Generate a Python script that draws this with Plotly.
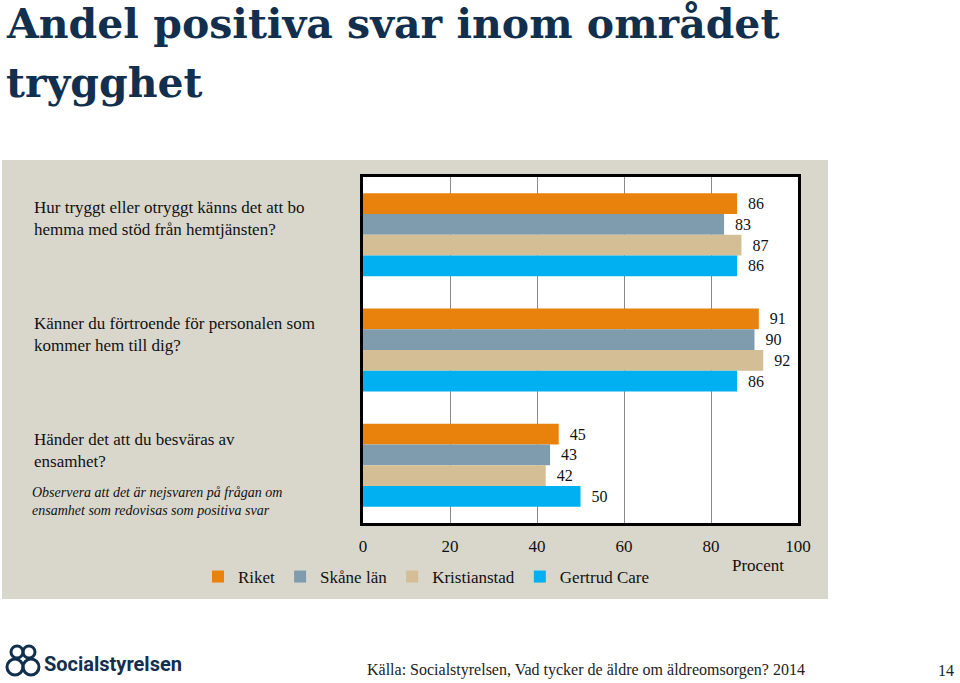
import plotly.graph_objects as go

categories = [
    "Hur tryggt eller otryggt känns det att bo hemma med stöd från hemtjänsten?",
    "Känner du förtroende för personalen som kommer hem till dig?",
    "Händer det att du besväras av ensamhet?",
]
series_names = ["Riket", "Skåne län", "Kristianstad", "Gertrud Care"]
riket = [86, 91, 45]
skane = [83, 90, 43]
kristianstad = [87, 92, 42]
gertrud = [86, 86, 50]
tick_vals = [0, 20, 40, 60, 80, 100]

colors = ["#E8820C", "#7F9BAE", "#D3BE96", "#00B0F0"]
values = [riket, skane, kristianstad, gertrud]

W, H = 960, 683
L, R, T, B = 363, 798, 177, 523


def px(p):
    return (p - L) / (R - L)


def py(p):
    return (B - p) / (B - T)


SERIF = "Liberation Serif, DejaVu Serif, serif"
NAVY = "#12304D"
INK = "#111111"

fig = go.Figure()
for name, vals, col in zip(series_names, values, colors):
    fig.add_trace(go.Bar(
        y=categories, x=vals, name=name, orientation="h",
        marker=dict(color=col, line=dict(width=0)),
        text=["\u00a0\u00a0" + str(v) for v in vals],
        textposition="outside", constraintext="none",
        textfont=dict(family=SERIF, size=16, color=INK),
        cliponaxis=False, hoverinfo="skip",
    ))

shapes = [
    # beige panel
    dict(type="rect", xref="paper", yref="paper", layer="below",
         x0=px(2), x1=px(828), y0=py(599), y1=py(160),
         fillcolor="#D9D7CC", line=dict(width=0)),
    # white plot area
    dict(type="rect", xref="paper", yref="paper", layer="below",
         x0=0, x1=1, y0=0, y1=1, fillcolor="white", line=dict(width=0)),
]


def circ(cx, cy, r):
    return dict(type="circle", xref="paper", yref="paper",
                x0=px(cx - r), x1=px(cx + r), y0=py(cy + r), y1=py(cy - r),
                line=dict(color=NAVY, width=3))


shapes += [circ(17, 652, 6), circ(29, 652, 6), circ(15, 667, 8), circ(31, 667, 8)]

annotations = [
    dict(text="<b>Andel positiva svar inom området</b>", x=px(4), y=py(24),
         xanchor="left", yanchor="middle",
         font=dict(family="DejaVu Serif", size=41, color=NAVY)),
    dict(text="<b>trygghet</b>", x=px(4), y=py(83),
         xanchor="left", yanchor="middle",
         font=dict(family="DejaVu Serif", size=41, color=NAVY)),
    dict(text="Hur tryggt eller otryggt känns det att bo<br>hemma med stöd från hemtjänsten?",
         x=px(32), y=py(218), xanchor="left", yanchor="middle", align="left",
         font=dict(family=SERIF, size=17, color=INK)),
    dict(text="Känner du förtroende för personalen som<br>kommer hem till dig?",
         x=px(32), y=py(334), xanchor="left", yanchor="middle", align="left",
         font=dict(family=SERIF, size=17, color=INK)),
    dict(text="Händer det att du besväras av<br>ensamhet?",
         x=px(32), y=py(450), xanchor="left", yanchor="middle", align="left",
         font=dict(family=SERIF, size=17, color=INK)),
    dict(text="<i>Observera att det är nejsvaren på frågan om<br>ensamhet som redovisas som positiva svar</i>",
         x=px(30), y=py(501), xanchor="left", yanchor="middle", align="left",
         font=dict(family=SERIF, size=14, color=INK)),
    dict(text="Procent", x=px(758), y=py(565), xanchor="center", yanchor="middle",
         font=dict(family=SERIF, size=17, color=INK)),
    dict(text="Källa: Socialstyrelsen, Vad tycker de äldre om äldreomsorgen? 2014",
         x=px(365), y=py(670), xanchor="left", yanchor="middle",
         font=dict(family=SERIF, size=16, color="#222222")),
    dict(text="14", x=px(956), y=py(670), xanchor="right", yanchor="middle",
         font=dict(family=SERIF, size=16, color="#222222")),
    dict(text="<b>Socialstyrelsen</b>", x=px(42), y=py(664), xanchor="left", yanchor="middle",
         font=dict(family="Roboto, sans-serif", size=20, color=NAVY)),
]
for a in annotations:
    a.update(xref="paper", yref="paper", showarrow=False)

fig.update_layout(
    width=W, height=H,
    margin=dict(l=L, r=W - R, t=T, b=H - B, pad=0),
    paper_bgcolor="white", plot_bgcolor="white",
    barmode="group", bargap=0.28, bargroupgap=0,
    showlegend=True,
    legend=dict(orientation="h", x=px(198), y=py(577), xanchor="left", yanchor="middle",
                font=dict(family=SERIF, size=17, color=INK),
                bgcolor="rgba(0,0,0,0)", itemwidth=30, traceorder="normal"),
    shapes=shapes, annotations=annotations,
    xaxis=dict(range=[0, 100], tickvals=tick_vals, ticktext=[str(t) for t in tick_vals],
               showgrid=True, gridcolor="#8A8A8A", gridwidth=1, zeroline=False,
               showline=True, linecolor="black", linewidth=2.5, mirror=True,
               ticks="", ticklabelstandoff=6,
               tickfont=dict(family=SERIF, size=17, color=INK)),
    yaxis=dict(autorange="reversed", showticklabels=False, showgrid=False,
               zeroline=False, showline=True, linecolor="black", linewidth=2.5, mirror=True),
)

fig.write_html("out.html", config={"displayModeBar": False},
               post_script="document.body.style.margin='0';document.body.style.overflow='hidden';")
